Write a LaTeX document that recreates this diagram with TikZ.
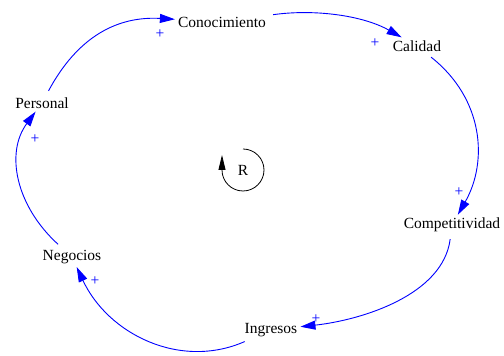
\documentclass[tikz,border=0pt]{standalone}
\usepackage{fontspec}
\setmainfont{Liberation Serif}
\usetikzlibrary{arrows.meta}
\definecolor{linkblue}{HTML}{0000FF}

\begin{document}
\begin{tikzpicture}[x=1pt,y=1pt,
  var/.style={font=\fontsize{15.5}{18}\selectfont,inner sep=3pt},
  pol/.style={text=linkblue,font=\fontsize{15.5}{18}\selectfont,inner sep=0pt},
  link/.style={linkblue,line width=0.9pt,shorten <=4pt,-{Triangle[length=15pt,width=9pt]}}]
\useasboundingbox (0,0) rectangle (504,356);
% variables
\node[var] (con) at (222,334) {Conocimiento};
\node[var] (cal) at (417,310) {Calidad};
\node[var] (comp) at (452,131) {Competitividad};
\node[var] (ing) at (271,26) {Ingresos};
\node[var] (neg) at (72,99) {Negocios};
\node[var] (per) at (42,253) {Personal};
% links
\draw[link] (per) .. controls (78,320) and (118,340) .. (con);
\draw[link] (con) .. controls (313,347) and (362,341) .. (cal);
\draw[link] (cal) .. controls (484,257) and (488,194) .. (comp);
\draw[link] (comp) .. controls (443,61) and (362,36) .. (ing);
\draw[link] (ing) .. controls (180,-14) and (108,22) .. (neg);
\draw[link] (neg) .. controls (16,150) and (5,203) .. (per);
% polarities
\node[pol] (p1) at (160,322) {+};
\node[pol] (p2) at (375,313) {+};
\node[pol] (p3) at (459,164) {+};
\node[pol] (p4) at (316,37) {+};
\node[pol] (p5) at (95,75) {+};
\node[pol] (p6) at (35,217) {+};
% loop
\node[var] (loop) at (243,186) {R};
\draw[line width=0.8pt,-{Triangle[length=15pt,width=7pt]}] ([yshift=21pt]loop.center) arc[start angle=90,end angle=-180,radius=21] -- ++(0,15);
\end{tikzpicture}
\end{document}
